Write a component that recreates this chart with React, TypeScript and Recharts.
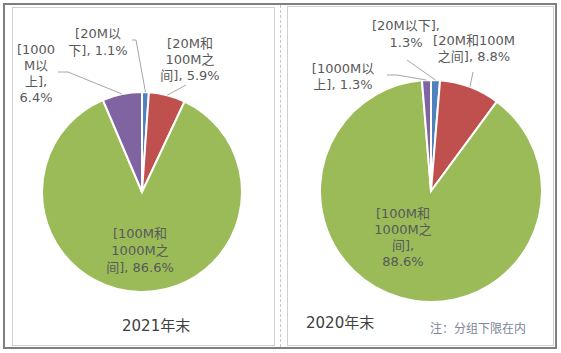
import { PieChart, Pie, Cell } from 'recharts';

const categories = ['[20M以下]', '[20M和100M之间]', '[100M和1000M之间]', '[1000M以上]'];
const values2021 = [1.1, 5.9, 86.6, 6.4];
const values2020 = [1.3, 8.8, 88.6, 1.3];
const titles = ['2021年末', '2020年末'];
const note = '注：分组下限在内';

const COLORS = ['#4f81bd', '#c0504d', '#9bbb59', '#8064a2'];
const TEXT = '#595959';
const LINE = '#a6a6a6';
const FONT = '"DejaVu Sans", "Noto Sans CJK SC", sans-serif';
const RADIAN = Math.PI / 180;

type LabelLayout = { x: number; y: number; lh: number; breaks: number[]; leader?: number[][] };

// where each label sits and where its text wraps
const layout2021: LabelLayout[] = [
  { x: 98, y: 33, lh: 16.5, breaks: [5], leader: [[132, 40], [136, 40]] },
  { x: 190, y: 43, lh: 16, breaks: [5, 10], leader: [[186, 85]] },
  { x: 140, y: 233, lh: 17, breaks: [6, 12] },
  { x: 36, y: 49, lh: 16, breaks: [5, 7, 10], leader: [[58, 72], [68, 72]] },
];
const layout2020: LabelLayout[] = [
  { x: 406, y: 25, lh: 17, breaks: [8], leader: [[407, 60]] },
  { x: 474, y: 40, lh: 16, breaks: [9], leader: [[473, 72]] },
  { x: 403, y: 213, lh: 16, breaks: [6, 12, 15] },
  { x: 343, y: 68, lh: 16, breaks: [7], leader: [[387, 75], [397, 75]] },
];

const toData = (vals: number[]) => categories.map((name, i) => ({ name, value: vals[i] }));
const data2021 = toData(values2021);
const data2020 = toData(values2020);

function splitText(text: string, breaks: number[]) {
  const out: string[] = [];
  let prev = 0;
  breaks.forEach((b) => {
    out.push(text.slice(prev, b).trim());
    prev = b;
  });
  out.push(text.slice(prev).trim());
  return out;
}

const makeLabel = (lay: LabelLayout[]) => (props: any) => {
  const { cx, cy, midAngle, outerRadius, index, name, value } = props;
  const l = lay[index];
  const lines = splitText(`${name}, ${Number(value).toFixed(1)}%`, l.breaks);
  const ax = cx + outerRadius * Math.cos(-midAngle * RADIAN);
  const ay = cy + outerRadius * Math.sin(-midAngle * RADIAN);
  const pts = l.leader ? [...l.leader, [ax, ay]] : null;
  return (
    <g key={`lbl-${index}`}>
      {pts && (
        <polyline
          points={pts.map((p) => p.join(',')).join(' ')}
          fill="none"
          stroke={LINE}
          strokeWidth={1}
        />
      )}
      <text
        x={l.x}
        y={l.y}
        fill={TEXT}
        fontSize={13}
        fontFamily={FONT}
        textAnchor="middle"
        dominantBaseline="central"
      >
        {lines.map((s, i) => (
          <tspan key={i} x={l.x} y={l.y + i * l.lh}>
            {s}
          </tspan>
        ))}
      </text>
    </g>
  );
};

const box = (left: number, top: number, width: number, height: number, border: string) => ({
  position: 'absolute' as const,
  left,
  top,
  width,
  height,
  border,
  boxSizing: 'border-box' as const,
});

export default function App() {
  return (
    <div style={{ position: 'absolute', left: 0, top: 0, width: 561, height: 353, background: '#fff', fontFamily: FONT }}>
      <div style={box(3, 3, 554, 346, '2px solid #7f7f7f')} />
      <div style={box(12, 7, 263, 339, '1px solid #d0d0d0')} />
      <div style={{ position: 'absolute', left: 280, top: 5, height: 342, borderLeft: '1px dashed #c8c8c8' }} />
      <div style={box(287, 6, 267, 340, '1px solid #d0d0d0')} />
      <div style={{ position: 'absolute', left: 0, top: 0 }}>
        <PieChart width={561} height={353} margin={{ top: 0, right: 0, bottom: 0, left: 0 }}>
          <Pie
            data={data2021}
            dataKey="value"
            nameKey="name"
            cx={142}
            cy={192}
            outerRadius={100}
            startAngle={90}
            endAngle={-270}
            stroke="#ffffff"
            strokeWidth={2}
            label={makeLabel(layout2021)}
            labelLine={false}
            isAnimationActive={false}
          >
            {data2021.map((_, i) => (
              <Cell key={`a-${i}`} fill={COLORS[i]} />
            ))}
          </Pie>
          <Pie
            data={data2020}
            dataKey="value"
            nameKey="name"
            cx={431}
            cy={191}
            outerRadius={111}
            startAngle={90}
            endAngle={-270}
            stroke="#ffffff"
            strokeWidth={2}
            label={makeLabel(layout2020)}
            labelLine={false}
            isAnimationActive={false}
          >
            {data2020.map((_, i) => (
              <Cell key={`b-${i}`} fill={COLORS[i]} />
            ))}
          </Pie>
        </PieChart>
      </div>
      <div style={{ position: 'absolute', left: 122, top: 316, fontSize: 15, color: '#404040', lineHeight: '20px', whiteSpace: 'nowrap' }}>
        {titles[0]}
      </div>
      <div style={{ position: 'absolute', left: 306, top: 313, fontSize: 15, color: '#404040', lineHeight: '20px', whiteSpace: 'nowrap' }}>
        {titles[1]}
      </div>
      <div style={{ position: 'absolute', left: 430, top: 321, fontSize: 12, color: '#80849a', lineHeight: '16px', whiteSpace: 'nowrap' }}>
        {note}
      </div>
    </div>
  );
}
